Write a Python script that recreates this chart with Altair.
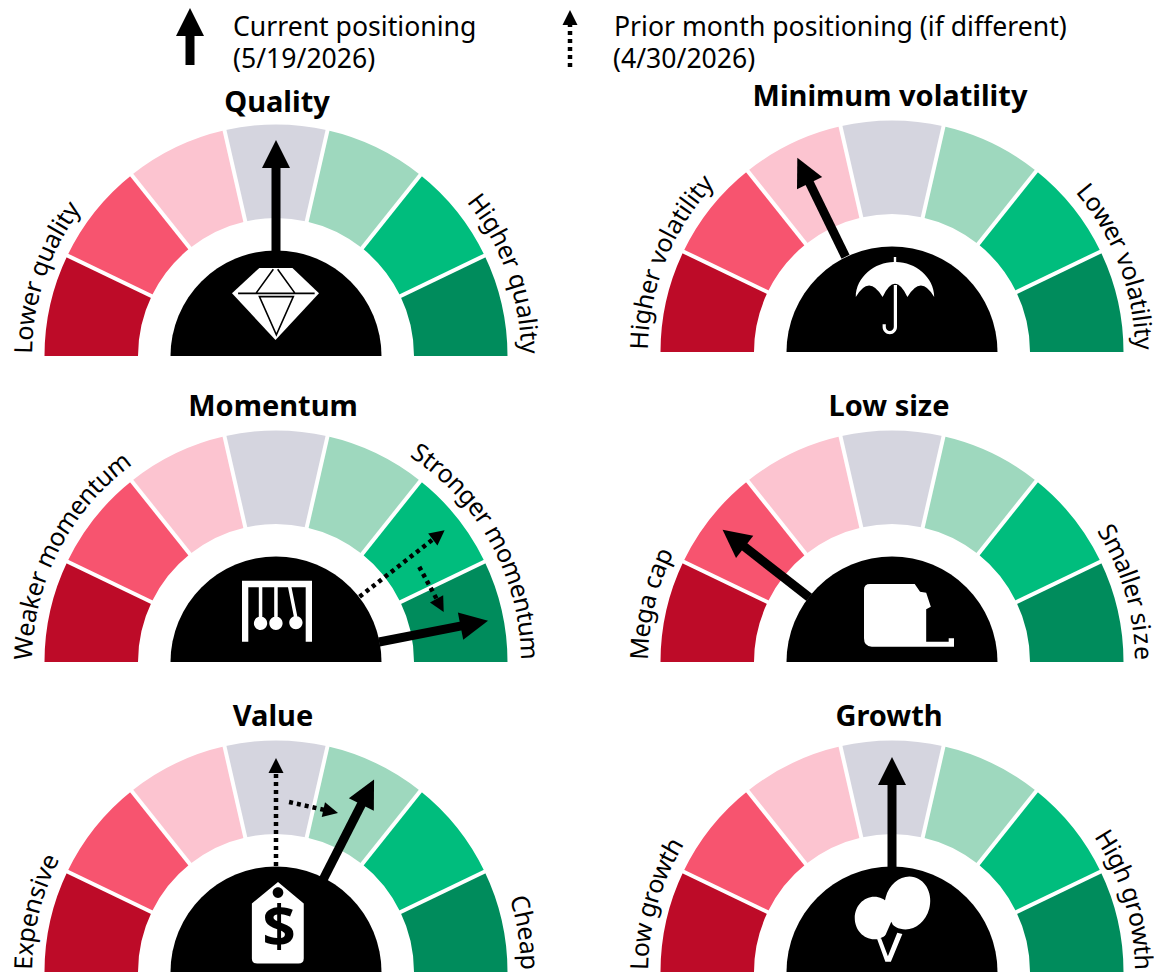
import math
import altair as alt
import pandas as pd

FONT = "Noto Sans"
SEG_COLORS = ["#BD0B28", "#F7546F", "#FCC4D0", "#D5D5DF", "#9ED8BE", "#00BD7D", "#008C5C"]

GAUGES = ["Quality", "Minimum volatility", "Momentum", "Low size", "Value", "Growth"]
CENTER_X = [276, 892, 276, 892, 276, 892]
CENTER_Y = [356, 352, 662, 662, 972, 972]
TITLE_X = [277, 890, 273, 889, 273, 889]
TITLE_Y = [112, 106, 416, 416, 726, 726]
LEFT_LABELS = ["Lower quality", "Higher volatility", "Weaker momentum", "Mega cap", "Expensive", "Low growth"]
LEFT_END = [37, 43.4, 54, 26.5, 27.5, 31.5]
RIGHT_LABELS = ["Higher quality", "Lower volatility", "Stronger momentum", "Smaller size", "Cheap", "High growth"]
RIGHT_START = [39, 41, 57, 32.6, 17.5, 33.8]
LABEL_R_LEFT = [244, 244, 244, 244, 244, 244]
LABEL_R_RIGHT = [245, 243, 245, 243, 245, 243]

# arrows: gauge index, tail (angle deg, radius), tip (angle deg, radius); angle 0 = right, 180 = left
CURRENT = [(0, 90, 103, 90, 216), (1, 116, 106, 116, 216), (2, 11, 105, 11, 216),
           (3, 142, 105, 142, 215), (4, 63, 104, 63, 216), (5, 90, 104, 90, 215)]
PRIOR = [(2, 38, 106, 38, 214), (2, 33.6, 172, 16.6, 175),
         (4, 90, 106, 90, 214), (4, 85.6, 170.5, 68.7, 170.7)]

LEGEND_TEXT = [("Current positioning", 233, 36), ("(5/19/2026)", 233, 68),
               ("Prior month positioning (if different)", 614, 36), ("(4/30/2026)", 613, 68)]
LEGEND_ARROWS = [("current", 190, 65, 190, 8), ("prior", 570, 67, 570, 10)]

R_OUT, R_IN, R_HUB = 231.5, 138, 105.5
HEAD = {"current": 28, "prior": 15}

CHAR_W = {" ": .26, "i": .26, "l": .26, "t": .36, "f": .34, "r": .41, "s": .48, "c": .48, "e": .56,
          "a": .56, "o": .6, "m": .93, "w": .78, "v": .51, "y": .51, "k": .53, "x": .52,
          "L": .52, "H": .74, "W": .93, "S": .55, "M": .9, "E": .56, "C": .63}


def circle(cx, cy, r, sweep=1):
    return (f"M{cx + r},{cy}A{r},{r} 0 1 {sweep} {cx - r},{cy}A{r},{r} 0 1 {sweep} {cx + r},{cy}Z")


def ellipse(cx, cy, rx, ry, rot=0):
    dx, dy = rx * math.cos(math.radians(rot)), rx * math.sin(math.radians(rot))
    return (f"M{cx + dx:.3f},{cy + dy:.3f}A{rx},{ry} {rot} 1 1 {cx - dx:.3f},{cy - dy:.3f}"
            f"A{rx},{ry} {rot} 1 1 {cx + dx:.3f},{cy + dy:.3f}Z")


DIAMOND = "M-0.37,-0.83L0.39,-0.83L1,-0.25L0,0.83L-1,-0.25Z"
DIAMOND_LINES = ("M-0.86,-0.245L0.9,-0.245M-0.45,-0.245L-0.05,-0.8M0.45,-0.245L0.05,-0.8"
                 "M-0.37,-0.17L0.41,-0.17L0.02,0.71Z")
UMBRELLA = ("M-0.98,0C-0.98,-0.5,-0.5,-0.875,-0.03,-0.875L-0.03,-1L0.03,-1L0.03,-0.875"
            "C0.5,-0.875,0.98,-0.5,0.98,0Q0.65,-0.58,0.31,0Q0,-0.66,-0.31,0Q-0.65,-0.58,-0.98,0Z"
            "M-0.03,-0.3L0.05,-0.3L0.05,0.75A0.18,0.18 0 0 1 -0.31,0.75L-0.31,0.68L-0.23,0.68L-0.23,0.75"
            "A0.10,0.10 0 0 0 -0.03,0.75Z")
CRADLE = ("M-1,-0.867L1,-0.867L1,0.876L0.82,0.876L0.82,-0.676L-0.82,-0.676L-0.82,0.876L-1,0.876Z"
          "M-0.52,-0.7L-0.42,-0.7L-0.42,0.2L-0.52,0.2Z"
          "M-0.08,-0.7L0.02,-0.7L0.02,0.2L-0.08,0.2Z"
          "M0.31,-0.7L0.41,-0.7L0.59,0.2L0.49,0.2Z"
          + circle(-0.47, 0.35, 0.19) + circle(-0.03, 0.35, 0.19) + circle(0.54, 0.33, 0.19))
TAPE = ("M-1,-0.556Q-1,-0.689,-0.866,-0.689L0.127,-0.689L0.246,-0.519L0.382,-0.496L0.485,-0.185L0.382,-0.126"
        "L0.382,0.593L0.882,0.593L0.882,0.519L1,0.519L1,0.704L-0.827,0.704Q-1,0.704,-1,0.519Z")
TAG = ("M0,-0.99L0.628,-0.463L0.628,0.878Q0.628,1,0.497,1L-0.506,1Q-0.637,1,-0.637,0.878L-0.637,-0.463Z"
       + circle(0, -0.73, 0.13, 0))
BALLOONS = (ellipse(0.34, -0.4, 0.53, 0.63, 15) + ellipse(-0.44, -0.05, 0.46, 0.5)
            + "M-0.38,0.43L-0.28,0.43L-0.12,0.85L0.1,0.3L0.22,0.33L-0.05,0.98L-0.18,0.98Z")
BALLOON_GAP = "M-0.04,0.04L0.04,0.2L-0.13,0.78L-0.21,0.43Z"

ICONS = [  # glyph placement: path, centre x, centre y, half size, fill
    (DIAMOND, 275.5, 304, 43.5, "white"), (UMBRELLA, 895, 297, 40, "white"),
    (CRADLE, 277, 611, 35, "white"), (TAPE, 909, 615, 45, "white"),
    (TAG, 278, 922.5, 41, "white"), (BALLOONS, 893, 920, 42.5, "white"),
    (BALLOON_GAP, 893, 920, 42.5, "black"),
]
ICON_LINES = [(DIAMOND_LINES, 275.5, 304, 43.5)]
DOLLAR = ("$", 279, 947, 58)

# ---------- tables
segs, seps, hubs, chars = [], [], [], []
for g in range(6):
    cx, cy = CENTER_X[g], CENTER_Y[g]
    hubs.append(dict(x=cx, y=cy, t=-math.pi / 2, t2=math.pi / 2, r=R_HUB, r2=0))
    for i, col in enumerate(SEG_COLORS):
        segs.append(dict(x=cx, y=cy, t=-math.pi / 2 + i * math.pi / 7, t2=-math.pi / 2 + (i + 1) * math.pi / 7,
                         r=R_OUT, r2=R_IN, c=col))
        if i:
            a = i * math.pi / 7
            seps.append(dict(x=cx - (R_IN - 2) * math.cos(a), y=cy - (R_IN - 2) * math.sin(a),
                             x2=cx - (R_OUT + 2) * math.cos(a), y2=cy - (R_OUT + 2) * math.sin(a)))


def place(label, cx, cy, a0, a1, radius):
    widths = [CHAR_W.get(ch, .61) for ch in label]
    total = sum(widths)
    pos = 0
    for ch, w in zip(label, widths):
        phi = a0 + (a1 - a0) * (pos + w / 2) / total
        pos += w
        if ch == " ":
            continue
        rad = math.radians(phi)
        chars.append(dict(x=cx - radius * math.cos(rad), y=cy - radius * math.sin(rad),
                          a=(phi - 90) % 360, s=ch))


for g in range(6):
    place(LEFT_LABELS[g], CENTER_X[g], CENTER_Y[g], 0.5, LEFT_END[g], LABEL_R_LEFT[g])
    place(RIGHT_LABELS[g], CENTER_X[g], CENTER_Y[g], 180 - RIGHT_START[g], 179.5, LABEL_R_RIGHT[g])


def arrow(kind, x0, y0, x1, y1, rows, heads):
    L = math.hypot(x1 - x0, y1 - y0)
    ux, uy = (x1 - x0) / L, (y1 - y0) / L
    h = HEAD[kind]
    rows.append(dict(x=x0, y=y0, x2=x1 - ux * (h - 1), y2=y1 - uy * (h - 1)))
    ang = math.degrees(math.atan2(ux, -uy)) % 360
    heads.append(dict(x=x1 - ux * h / 2, y=y1 - uy * h / 2, a=ang, size=h * h))


cur_rows, cur_heads, pri_rows, pri_heads = [], [], [], []


def polar(g, deg, r):
    return CENTER_X[g] + r * math.cos(math.radians(deg)), CENTER_Y[g] - r * math.sin(math.radians(deg))


for g, a0, r0, a1, r1 in CURRENT:
    arrow("current", *polar(g, a0, r0), *polar(g, a1, r1), cur_rows, cur_heads)
for g, a0, r0, a1, r1 in PRIOR:
    arrow("prior", *polar(g, a0, r0), *polar(g, a1, r1), pri_rows, pri_heads)
for kind, x0, y0, x1, y1 in LEGEND_ARROWS:
    if kind == "current":
        arrow(kind, x0, y0, x1, y1, cur_rows, cur_heads)
    else:
        arrow(kind, x0, y0, x1, y1, pri_rows, pri_heads)

# ---------- encodings
XS = alt.Scale(domain=[8, 1154], nice=False, zero=False)
YS = alt.Scale(domain=[973, 8], nice=False, zero=False)
X = alt.X("x:Q", scale=XS, axis=None)
Y = alt.Y("y:Q", scale=YS, axis=None)
X2 = alt.X2("x2:Q")
Y2 = alt.Y2("y2:Q")
HEAD_PATH = "M0,-1L1,1L-1,1Z"


def arcs(df, **kw):
    enc = dict(x=X, y=Y, theta=alt.Theta("t:Q", scale=None, stack=None), theta2=alt.Theta2("t2:Q"),
               radius=alt.Radius("r:Q", scale=None), radius2=alt.Radius2("r2:Q"))
    if "c" in df:
        enc["fill"] = alt.Fill("c:N", scale=None)
    return alt.Chart(df).mark_arc(**kw).encode(**enc)


def rules(rows, **kw):
    return alt.Chart(pd.DataFrame(rows)).mark_rule(**kw).encode(x=X, y=Y, x2=X2, y2=Y2)


def heads(rows):
    return alt.Chart(pd.DataFrame(rows)).mark_point(filled=True, opacity=1, color="black", strokeWidth=0,
                                                    shape=HEAD_PATH).encode(
        x=X, y=Y, angle=alt.Angle("a:Q", scale=None), size=alt.Size("size:Q", scale=None))


icon_df = pd.DataFrame([dict(p=p, x=x, y=y, size=(2 * s) ** 2, c=c) for p, x, y, s, c in ICONS])
line_df = pd.DataFrame([dict(p=p, x=x, y=y, size=(2 * s) ** 2) for p, x, y, s in ICON_LINES])

layers = [
    arcs(pd.DataFrame(segs)),
    rules(seps, color="white", strokeWidth=4),
    arcs(pd.DataFrame(hubs), fill="black"),
    rules(pri_rows, color="black", strokeWidth=4.5, strokeDash=[4, 4]),
    heads(pri_heads),
    rules(cur_rows, color="black", strokeWidth=9),
    heads(cur_heads),
    alt.Chart(icon_df).mark_point(filled=True, opacity=1, strokeWidth=0).encode(
        x=X, y=Y, shape=alt.Shape("p:N", scale=None), size=alt.Size("size:Q", scale=None),
        fill=alt.Fill("c:N", scale=None)),
    alt.Chart(line_df).mark_point(filled=False, opacity=1, stroke="black", strokeWidth=1.6).encode(
        x=X, y=Y, shape=alt.Shape("p:N", scale=None), size=alt.Size("size:Q", scale=None)),
    alt.Chart(pd.DataFrame([dict(s=DOLLAR[0], x=DOLLAR[1], y=DOLLAR[2])])).mark_text(
        font=FONT, fontWeight="bold", fontSize=DOLLAR[3], color="black", align="center",
        baseline="alphabetic").encode(x=X, y=Y, text="s:N"),
    alt.Chart(pd.DataFrame(chars)).mark_text(
        font=FONT, fontSize=25, color="black", align="center", baseline="alphabetic").encode(
        x=X, y=Y, text="s:N", angle=alt.Angle("a:Q", scale=None)),
    alt.Chart(pd.DataFrame(dict(s=GAUGES, x=TITLE_X, y=TITLE_Y))).mark_text(
        font=FONT, fontWeight="bold", fontSize=29, color="black", align="center", baseline="alphabetic").encode(
        x=X, y=Y, text="s:N"),
    alt.Chart(pd.DataFrame(LEGEND_TEXT, columns=["s", "x", "y"])).mark_text(
        font=FONT, fontSize=26.6, color="black", align="left", baseline="alphabetic").encode(
        x=X, y=Y, text="s:N"),
]

chart = alt.layer(*layers).properties(
    width=1146, height=965, padding=0, autosize=alt.AutoSizeParams(type="none"),
).configure_view(stroke=None)

chart.save("out.html", embed_options={"renderer": "svg", "actions": False})
